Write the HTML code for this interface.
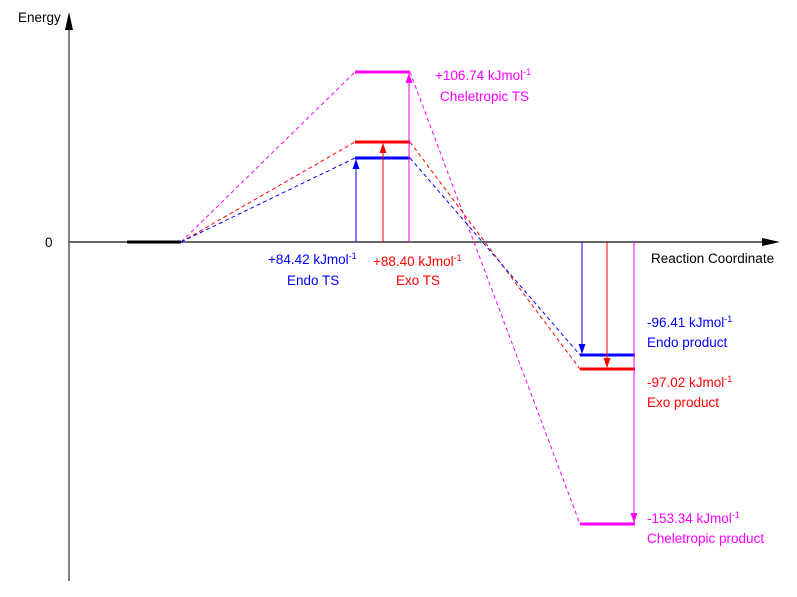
<!DOCTYPE html>
<html><head><style>body{margin:0;background:#fff}svg{display:block}text{font-family:"Liberation Sans",sans-serif;font-size:13.5px}</style></head><body>
<svg width="797" height="597" xmlns="http://www.w3.org/2000/svg">
<defs>
<marker id="ab" markerWidth="10" markerHeight="8" refX="9" refY="4" orient="auto" markerUnits="userSpaceOnUse"><path d="M0,0.5 L10,4 L0,7.5 z" fill="blue"/></marker>
<marker id="ar" markerWidth="10" markerHeight="8" refX="9" refY="4" orient="auto" markerUnits="userSpaceOnUse"><path d="M0,0.5 L10,4 L0,7.5 z" fill="red"/></marker>
<marker id="am" markerWidth="10" markerHeight="8" refX="9" refY="4" orient="auto" markerUnits="userSpaceOnUse"><path d="M0,0.5 L10,4 L0,7.5 z" fill="magenta"/></marker>
</defs>
<line x1="69" y1="581" x2="69" y2="20" stroke="#000" stroke-width="1"/>
<path d="M69,12 L65,30 L73,30 z" fill="#000"/>
<line x1="69" y1="242" x2="770" y2="242" stroke="#666" stroke-width="2"/>
<path d="M780,242 L762,238 L762,246 z" fill="#000"/>
<text x="18" y="22">Energy</text>
<text x="45" y="247">0</text>
<text x="651" y="263">Reaction Coordinate</text>
<g fill="none" stroke-dasharray="4,3" stroke-width="1">
<path d="M181,242 L355,72" stroke="magenta"/>
<path d="M181,242 L355,142" stroke="red"/>
<path d="M181,242 L355,158" stroke="blue"/>
<path d="M410,72 L580,524" stroke="magenta"/>
<path d="M410,142 L580,369" stroke="red"/>
<path d="M410,158 L580,355" stroke="blue"/>
</g>
<g stroke-width="3">
<line x1="127" y1="242" x2="181" y2="242" stroke="#000"/>
<line x1="355" y1="72" x2="410" y2="72" stroke="magenta"/>
<line x1="355" y1="142" x2="410" y2="142" stroke="red"/>
<line x1="355" y1="158" x2="410" y2="158" stroke="blue"/>
<line x1="580" y1="355" x2="635" y2="355" stroke="blue"/>
<line x1="580" y1="369" x2="635" y2="369" stroke="red"/>
<line x1="580" y1="524" x2="635" y2="524" stroke="magenta"/>
</g>
<g stroke-width="1">
<line x1="356" y1="242" x2="356" y2="160" stroke="blue" marker-end="url(#ab)"/>
<line x1="383" y1="242" x2="383" y2="144" stroke="red" marker-end="url(#ar)"/>
<line x1="409" y1="242" x2="409" y2="74" stroke="magenta" marker-end="url(#am)"/>
<line x1="582" y1="242" x2="582" y2="353" stroke="blue" marker-end="url(#ab)"/>
<line x1="607" y1="242" x2="607" y2="367" stroke="red" marker-end="url(#ar)"/>
<line x1="634" y1="242" x2="634" y2="522" stroke="magenta" marker-end="url(#am)"/>
</g>
<g fill="magenta"><text x="435" y="80">+106.74 kJmol<tspan font-size="9" dy="-5">-1</tspan></text><text x="440" y="101">Cheletropic TS</text></g>
<g fill="blue"><text x="268" y="264">+84.42 kJmol<tspan font-size="9" dy="-5">-1</tspan></text><text x="287" y="285">Endo TS</text></g>
<g fill="red"><text x="373" y="266">+88.40 kJmol<tspan font-size="9" dy="-5">-1</tspan></text><text x="396" y="285">Exo TS</text></g>
<g fill="blue"><text x="647" y="327">-96.41 kJmol<tspan font-size="9" dy="-5">-1</tspan></text><text x="647" y="347">Endo product</text></g>
<g fill="red"><text x="647" y="387">-97.02 kJmol<tspan font-size="9" dy="-5">-1</tspan></text><text x="647" y="407">Exo product</text></g>
<g fill="magenta"><text x="647" y="523">-153.34 kJmol<tspan font-size="9" dy="-5">-1</tspan></text><text x="647" y="543">Cheletropic product</text></g>
</svg>
</body></html>
